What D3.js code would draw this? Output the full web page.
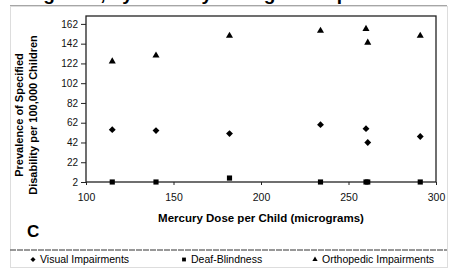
<!DOCTYPE html>
<html>
<head>
<meta charset="utf-8">
<script src="https://cdn.jsdelivr.net/npm/d3@7"></script>
<style>
  body { margin: 0; background: #fff; }
  svg { font-family: "Liberation Sans", Arial, sans-serif; }
</style>
</head>
<body>
<svg id="chart" width="453" height="268"></svg>
<script>
// dose values (x) shared by every series
const doses = [115, 140, 182, 234, 260, 261, 291];
const visual = [55, 54, 51, 60, 56, 42, 48];
const deafBlind = [2, 2, 6, 2, 2, 2, 2];
const orthopedic = [124, 130, 150, 155, 157, 143, 150];
const xTicks = [100, 150, 200, 250, 300];
const yTicks = [2, 22, 42, 62, 82, 102, 122, 142, 162];

const svg = d3.select("#chart");
const plotL = 86, plotR = 436, plotT = 16, plotB = 182;

const x = d3.scaleLinear().domain([100, 300]).range([plotL, plotR]);
const y = d3.scaleLinear().domain([2, 170]).range([plotB, plotT]);

// cut off heading from the source page
svg.append("text")
    .attr("x", 2).attr("y", 0)
    .attr("font-size", 19).attr("font-weight", "bold")
    .text("Categories, by Mercury Dosage Group");
svg.append("line")
    .attr("x1", 10).attr("x2", 447).attr("y1", 6).attr("y2", 6)
    .attr("stroke", "#888").attr("stroke-width", 1.5);

// light chart-area frame
svg.append("rect")
    .attr("x", 10.5).attr("y", 6.5).attr("width", 437).attr("height", 261)
    .attr("fill", "none").attr("stroke", "#ddd");

// plot box
svg.append("rect")
    .attr("x", plotL).attr("y", plotT).attr("width", plotR - plotL).attr("height", plotB - plotT)
    .attr("fill", "none").attr("stroke", "#222").attr("stroke-width", 1.3);

const yAxis = svg.append("g")
    .attr("transform", `translate(${plotL},0)`)
    .call(d3.axisLeft(y).tickValues(yTicks).tickSize(5).tickPadding(3));
yAxis.select(".domain").remove();
yAxis.selectAll("text").attr("font-size", 10).attr("font-family", "inherit").attr("fill", "#111");
yAxis.selectAll("line").attr("stroke", "#222");

const xAxis = svg.append("g")
    .attr("transform", `translate(0,${plotB})`)
    .call(d3.axisBottom(x).tickValues(xTicks).tickSize(3).tickPadding(9));
xAxis.select(".domain").remove();
xAxis.selectAll("text").attr("font-size", 10.5).attr("font-family", "inherit").attr("fill", "#111");
xAxis.selectAll("line").attr("stroke", "#222");

// axis titles
svg.append("text")
    .attr("x", 261).attr("y", 222).attr("text-anchor", "middle")
    .attr("font-size", 11.5).attr("font-weight", "bold")
    .text("Mercury Dose per Child (micrograms)");

const yTitle = svg.append("text")
    .attr("transform", "translate(23,115) rotate(-90)")
    .attr("text-anchor", "middle")
    .attr("font-size", 11).attr("font-weight", "bold");
yTitle.append("tspan").attr("x", 0).attr("dy", 0).text("Prevalence of Specified");
yTitle.append("tspan").attr("x", 0).attr("dy", 14).text("Disability per 100,000 Children");

svg.append("text")
    .attr("x", 27).attr("y", 237)
    .attr("font-size", 17).attr("font-weight", "bold")
    .text("C");

// markers
const series = [
  { name: "Visual Impairments", values: visual, symbol: d3.symbolDiamond2, size: 30 },
  { name: "Deaf-Blindness", values: deafBlind, symbol: d3.symbolSquare2, size: 34 },
  { name: "Orthopedic Impairments", values: orthopedic, symbol: d3.symbolTriangle2, size: 36 }
];

series.forEach(s => {
  svg.append("g").selectAll("path")
    .data(doses.map((d, i) => [d, s.values[i]]))
    .join("path")
    .attr("transform", d => `translate(${x(d[0])},${y(d[1])})`)
    .attr("d", d3.symbol().type(s.symbol).size(s.size))
    .attr("fill", "#000");
});

// legend
svg.append("line")
    .attr("x1", 10).attr("x2", 447).attr("y1", 250).attr("y2", 250)
    .attr("stroke", "#777").attr("stroke-width", 1.5).attr("stroke-dasharray", "6,1");

const legendX = [33, 184, 315];
series.forEach((s, i) => {
  const g = svg.append("g").attr("transform", `translate(${legendX[i]},259.5)`);
  g.append("path")
    .attr("d", d3.symbol().type(s.symbol).size(s.size * 0.55))
    .attr("fill", "#000");
  g.append("text")
    .attr("x", 7).attr("y", 3.5)
    .attr("font-size", 10.5)
    .text(s.name);
});
</script>
</body>
</html>
